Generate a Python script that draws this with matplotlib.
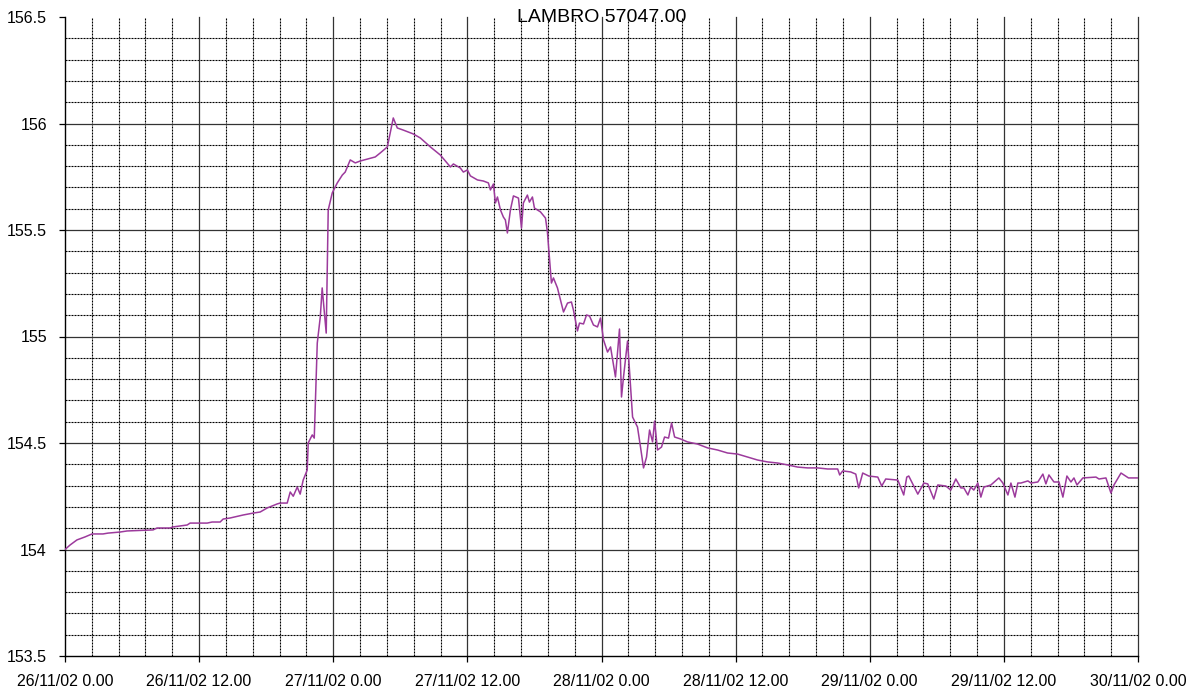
import matplotlib
matplotlib.use("Agg")
import matplotlib.pyplot as plt
import numpy as np

plt.rcParams['font.family'] = ['Liberation Sans', 'DejaVu Sans']

# Water level at LAMBRO station, hours since 26/11/02 00:00
hours = [
    0.00, 0.45, 1.07, 1.79, 2.42, 3.40, 3.85, 4.93, 5.55, 7.88, 8.24, 9.40, 9.67,
    10.93, 11.19, 12.72, 13.16, 13.88, 14.15, 14.78, 15.94, 16.84, 17.46, 18.09,
    18.99, 19.25, 19.88, 20.15, 20.42, 20.78, 21.04, 21.31, 21.67, 21.76, 22.12,
    22.30, 22.57, 22.84, 23.01, 23.37, 23.55, 23.91, 24.36, 24.81, 25.07, 25.52,
    25.97, 26.42, 27.04, 27.76, 28.21, 28.84, 29.37, 29.73, 30.27, 31.16, 31.79,
    32.69, 33.58, 34.48, 34.75, 35.37, 35.64, 36.00, 36.27, 36.90, 37.43, 37.88,
    38.06, 38.33, 38.51, 38.69, 38.96, 39.22, 39.40, 39.58, 39.85, 40.12, 40.57,
    40.84, 41.01, 41.37, 41.55, 41.82, 42.00, 42.54, 42.99, 43.16, 43.52, 43.70,
    44.06, 44.60, 44.96, 45.31, 45.49, 45.85, 46.03, 46.39, 46.66, 46.93, 47.28,
    47.64, 47.91, 48.18, 48.54, 48.81, 49.25, 49.61, 49.79, 49.97, 50.33, 50.78,
    51.22, 51.49, 51.76, 52.03, 52.30, 52.57, 52.75, 53.01, 53.37, 53.64, 54.00,
    54.27, 54.54, 55.07, 55.70, 56.60, 57.49, 58.39, 59.28, 60.18, 61.07, 61.97,
    62.87, 63.76, 64.66, 65.55, 66.45, 67.34, 68.24, 69.13, 69.31, 69.58, 70.30,
    70.75, 71.01, 71.37, 71.91, 72.72, 73.07, 73.43, 74.51, 75.04, 75.31, 75.49,
    76.30, 76.84, 77.19, 77.73, 78.09, 78.81, 79.25, 79.70, 80.15, 80.42, 80.78,
    81.04, 81.31, 81.67, 81.94, 82.21, 82.84, 83.55, 83.91, 84.36, 84.63, 84.99,
    85.25, 85.52, 86.15, 86.42, 87.04, 87.49, 87.76, 88.03, 88.48, 88.93, 89.28,
    89.64, 90.00, 90.27, 90.54, 91.07, 92.24, 92.51, 93.13, 93.58, 93.85, 94.48,
    95.15, 96.00,
]
level = [
    154.000, 154.021, 154.045, 154.059, 154.073, 154.073, 154.077, 154.082, 154.087,
    154.092, 154.101, 154.101, 154.106, 154.115, 154.124, 154.124, 154.129, 154.129,
    154.143, 154.148, 154.162, 154.171, 154.176, 154.195, 154.214, 154.218, 154.218,
    154.270, 154.250, 154.293, 154.260, 154.326, 154.373, 154.500, 154.538, 154.523,
    154.969, 155.092, 155.228, 155.016, 155.594, 155.674, 155.721, 155.758, 155.772,
    155.829, 155.815, 155.824, 155.833, 155.843, 155.862, 155.890, 156.026, 155.979,
    155.969, 155.951, 155.932, 155.890, 155.852, 155.796, 155.810, 155.791, 155.772,
    155.782, 155.754, 155.735, 155.730, 155.721, 155.688, 155.716, 155.627, 155.655,
    155.594, 155.561, 155.547, 155.486, 155.594, 155.660, 155.650, 155.509, 155.627,
    155.664, 155.631, 155.655, 155.603, 155.585, 155.556, 155.491, 155.251, 155.275,
    155.228, 155.115, 155.157, 155.162, 155.124, 155.026, 155.063, 155.059, 155.101,
    155.096, 155.054, 155.045, 155.087, 154.984, 154.927, 154.951, 154.810, 155.035,
    154.716, 154.810, 154.979, 154.622, 154.575, 154.481, 154.383, 154.434, 154.561,
    154.505, 154.603, 154.467, 154.481, 154.528, 154.523, 154.594, 154.528, 154.519,
    154.505, 154.495, 154.477, 154.467, 154.453, 154.448, 154.434, 154.420, 154.411,
    154.406, 154.397, 154.387, 154.383, 154.383, 154.378, 154.378, 154.350, 154.369,
    154.364, 154.354, 154.289, 154.359, 154.345, 154.340, 154.298, 154.331, 154.326,
    154.256, 154.340, 154.345, 154.260, 154.312, 154.308, 154.237, 154.303, 154.298,
    154.279, 154.331, 154.289, 154.289, 154.256, 154.293, 154.279, 154.312, 154.246,
    154.293, 154.303, 154.336, 154.312, 154.256, 154.312, 154.246, 154.312, 154.312,
    154.322, 154.312, 154.317, 154.354, 154.308, 154.350, 154.317, 154.317, 154.246,
    154.345, 154.317, 154.336, 154.303, 154.336, 154.340, 154.331, 154.336, 154.265,
    154.303, 154.359, 154.336, 154.336,
]

x_ticks = [0, 12, 24, 36, 48, 60, 72, 84, 96]
x_labels = ["26/11/02 0.00", "26/11/02 12.00", "27/11/02 0.00", "27/11/02 12.00",
            "28/11/02 0.00", "28/11/02 12.00", "29/11/02 0.00", "29/11/02 12.00",
            "30/11/02 0.00"]
y_ticks = [153.5, 154.0, 154.5, 155.0, 155.5, 156.0, 156.5]
title = "LAMBRO 57047.00"

fig = plt.figure(figsize=(11.92, 6.90), dpi=100)
ax = fig.add_axes([65 / 1192, 1 - 656 / 690, (1138 - 65) / 1192, (656 - 17) / 690])

x0, x1 = x_ticks[0], x_ticks[-1]
y0, y1 = y_ticks[0], y_ticks[-1]
ax.set_xlim(x0, x1)
ax.set_ylim(y0, y1)

dash = (0, (1.8, 0.9))
# minor grid: every 2.4 h and every 0.1 m
for xv in np.arange(x0, x1 + 1e-9, 2.4):
    if not np.isclose(xv % 12, 0) and not np.isclose(xv % 12, 12):
        ax.axvline(xv, color="black", lw=0.8, ls=dash, zorder=1)
for yv in np.arange(y0, y1 + 1e-9, 0.1):
    r = round(yv * 10) % 5
    if r != 0:
        ax.axhline(yv, color="black", lw=0.8, ls=dash, zorder=1)
# major grid
for xv in x_ticks[1:]:
    ax.axvline(xv, color="#333333", lw=0.9, zorder=1, clip_on=False)
for yv in y_ticks[1:-1]:
    ax.axhline(yv, color="#333333", lw=0.9, zorder=1)

ax.plot(hours, level, color="#9c3a9c", lw=1.1, zorder=3)

for s in ("top", "right"):
    ax.spines[s].set_visible(False)
for s in ("left", "bottom"):
    ax.spines[s].set_color("black")
    ax.spines[s].set_linewidth(1.0)

ax.set_xticks(x_ticks)
ax.set_xticklabels(x_labels)
ax.set_yticks(y_ticks)
ax.set_yticklabels([f"{v:g}" for v in y_ticks])
ax.tick_params(axis="both", direction="out", length=4, width=0.9, labelsize=11.5,
               colors="black")
ax.tick_params(axis="x", pad=9)
ax.tick_params(axis="y", pad=9)

fig.text((65 + 1138) / 2 / 1192, 1 - 17 / 690, title, ha="center", va="center",
         fontsize=14)

fig.savefig("out.png", dpi=100, facecolor="white")
